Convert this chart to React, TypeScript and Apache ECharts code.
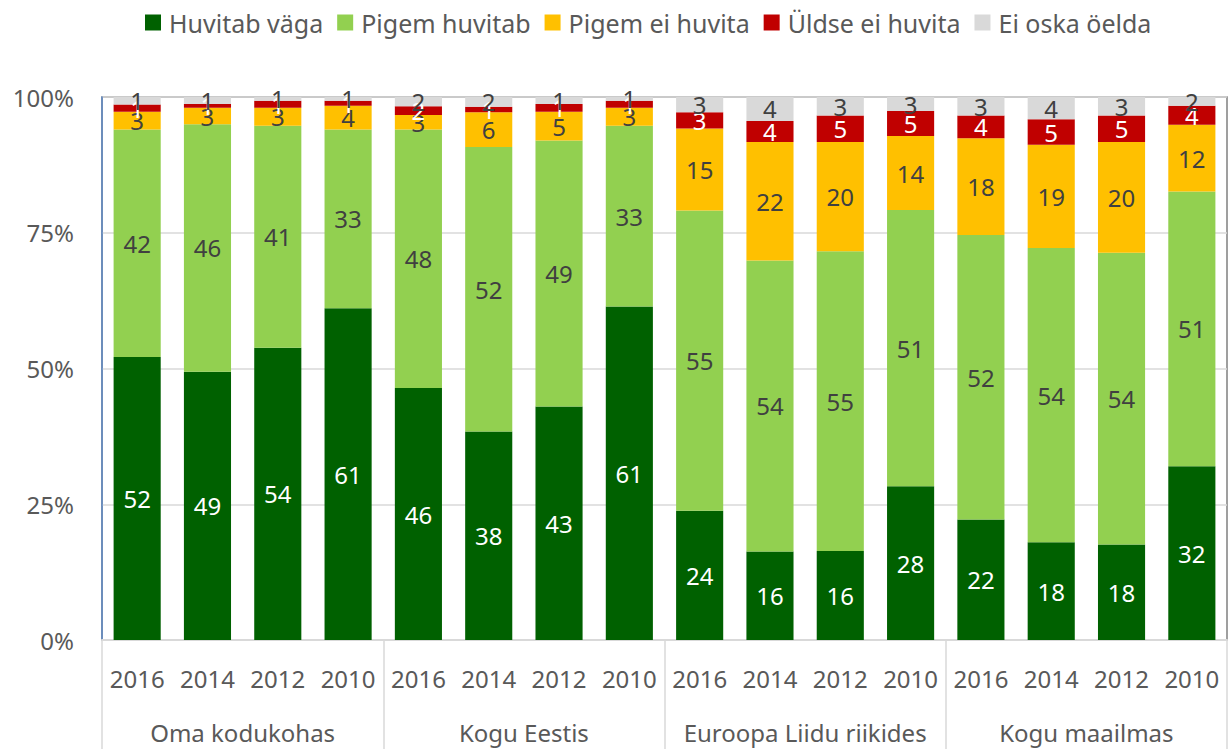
import React, { useEffect, useRef } from "react";
import * as echarts from "echarts";

const years = ["2016", "2014", "2012", "2010", "2016", "2014", "2012", "2010", "2016", "2014", "2012", "2010", "2016", "2014", "2012", "2010"];
const groups = ["Oma kodukohas", "Kogu Eestis", "Euroopa Liidu riikides", "Kogu maailmas"];
const seriesNames = ["Huvitab väga", "Pigem huvitab", "Pigem ei huvita", "Üldse ei huvita", "Ei oska öelda"];
const seriesColors = ["#006100", "#92d050", "#ffc000", "#c00000", "#d9d9d9"];
const labelColors = ["#ffffff", "#404040", "#404040", "#ffffff", "#404040"];

const huvitabVaga = [52.1, 49.4, 53.8, 61.1, 46.4, 38.4, 43.0, 61.4, 23.8, 16.3, 16.4, 28.3, 22.2, 18.0, 17.6, 32.0];
const pigemHuvitab = [41.9, 45.6, 40.9, 32.9, 47.6, 52.4, 49.0, 33.3, 55.3, 53.6, 55.2, 50.9, 52.4, 54.2, 53.7, 50.6];
const pigemEiHuvita = [3.3, 3.0, 3.3, 4.4, 2.7, 6.4, 5.3, 3.3, 15.1, 21.8, 20.1, 13.6, 17.8, 19.0, 20.4, 12.3];
const uldseEiHuvita = [1.3, 0.7, 1.3, 0.9, 1.6, 1.0, 1.4, 1.3, 3.0, 3.9, 4.9, 4.6, 4.2, 4.7, 4.9, 3.5];
const eiOskaOelda = [1.4, 1.3, 0.7, 0.7, 1.7, 1.8, 1.3, 0.7, 2.8, 4.4, 3.4, 2.6, 3.4, 4.1, 3.4, 1.6];

const seriesData = [huvitabVaga, pigemHuvitab, pigemEiHuvita, uldseEiHuvita, eiOskaOelda];
const yTicks = [0, 25, 50, 75, 100];

const FONT = "Noto Sans";

export default function App() {
  const ref = useRef<HTMLDivElement>(null);
  useEffect(() => {
    if (!ref.current) return;
    const chart = echarts.init(ref.current, null, { renderer: "svg" });
    chart.setOption({
      animation: false,
      textStyle: { fontFamily: FONT },
      legend: {
        top: 5,
        left: 140,
        itemWidth: 16,
        itemHeight: 16,
        itemGap: 14,
        icon: "rect",
        textStyle: { fontFamily: FONT, fontSize: 25, color: "#595959", padding: [0, 0, 0, 3] },
        data: seriesNames,
      },
      grid: {
        left: 102,
        right: 4,
        top: 97,
        bottom: 109,
        show: true,
        borderColor: "#808080",
        borderWidth: 1.5,
        containLabel: false,
      },
      xAxis: [
        {
          type: "category",
          data: years,
          position: "bottom",
          axisTick: { show: false },
          axisLine: { show: true, lineStyle: { color: "#d9d9d9", width: 2 } },
          axisLabel: { interval: 0, fontFamily: FONT, fontSize: 24, color: "#595959", margin: 26 },
        },
        {
          type: "category",
          data: groups,
          position: "bottom",
          axisLine: { show: false },
          axisTick: { show: true, length: 109, lineStyle: { color: "#d9d9d9", width: 1.5 } },
          axisLabel: { interval: 0, fontFamily: FONT, fontSize: 24, color: "#595959", margin: 80 },
        },
      ],
      yAxis: {
        type: "value",
        min: yTicks[0],
        max: yTicks[yTicks.length - 1],
        interval: 25,
        axisLine: { show: true, lineStyle: { color: "#5b87c5", width: 1.5 } },
        axisTick: { show: false },
        splitLine: { show: true, lineStyle: { color: "#d9d9d9", width: 1.5 } },
        axisLabel: { formatter: "{value}%", fontFamily: FONT, fontSize: 24, color: "#595959", margin: 28 },
      },
      series: seriesNames.map((name, i) => ({
        name,
        type: "bar",
        stack: "total",
        xAxisIndex: 0,
        barCategoryGap: "33%",
        data: seriesData[i],
        itemStyle: { color: seriesColors[i] },
        label: {
          show: true,
          position: "inside",
          fontFamily: FONT,
          fontSize: 24,
          color: labelColors[i],
          formatter: (p: any) => String(Math.round(p.value)),
        },
      })),
    });
    return () => chart.dispose();
  }, []);
  return (
    <div
      ref={ref}
      style={{ position: "absolute", left: 0, top: 0, width: 1231, height: 749, background: "#ffffff" }}
    />
  );
}
